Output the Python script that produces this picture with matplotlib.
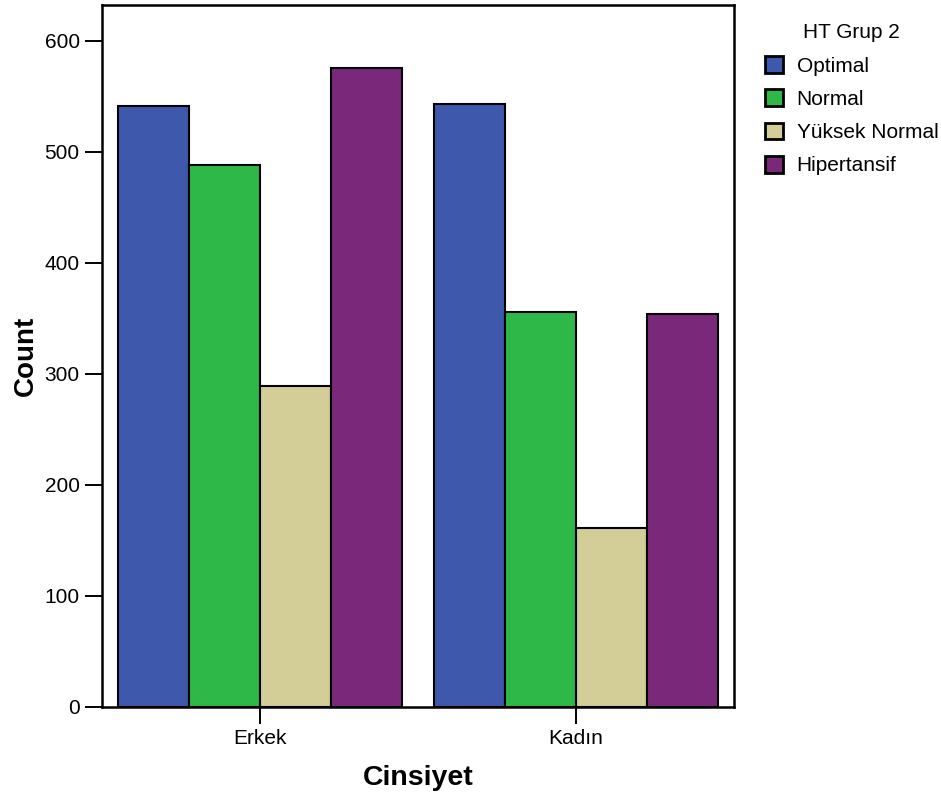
import matplotlib
matplotlib.use("Agg")
import matplotlib.pyplot as plt
import numpy as np

plt.rcParams['font.family'] = ['Liberation Sans', 'DejaVu Sans']

categories = ["Erkek", "Kadın"]
groups = ["Optimal", "Normal", "Yüksek Normal", "Hipertansif"]
optimal = [541, 543]
normal = [488, 356]
yuksek_normal = [289, 161]
hipertansif = [575, 354]
series = [optimal, normal, yuksek_normal, hipertansif]
colors = ["#3E58AC", "#2EB848", "#D3CE97", "#7A287A"]
yticks = [0, 100, 200, 300, 400, 500, 600]

fig = plt.figure(figsize=(9.41, 7.97), dpi=100)
ax = fig.add_axes([102/941, 1 - 707/797, (734-102)/941, (707-5)/797])

x = np.arange(len(categories))
w = 0.225
for i, (name, vals, c) in enumerate(zip(groups, series, colors)):
    ax.bar(x + (i - 1.5) * w, vals, w, color=c, edgecolor="black", linewidth=1.5, label=name, zorder=2)

ax.set_xlim(-0.5, 1.5)
ax.set_ylim(0, 632)
ax.set_xticks(x)
ax.set_xticklabels(categories, fontsize=15)
ax.set_yticks(yticks)
ax.set_yticklabels([str(t) for t in yticks], fontsize=15)
ax.tick_params(axis='both', direction='out', length=12, width=1.4, pad=4)
for s in ax.spines.values():
    s.set_linewidth(1.8)
ax.set_xlabel("Cinsiyet", fontsize=20.5, fontweight='bold', labelpad=12)
ax.set_ylabel("Count", fontsize=20, fontweight='bold', labelpad=4)

leg = ax.legend(title="HT Grup 2", loc='upper left',
                bbox_to_anchor=(757/941, 1 - 15/797), bbox_transform=fig.transFigure,
                frameon=False, fontsize=15, title_fontsize=15,
                handlelength=0.85, handleheight=0.85, handletextpad=0.65,
                labelspacing=0.66, borderaxespad=0.0)
for p in leg.get_patches():
    p.set_linewidth(2.0)

fig.savefig("out.png", dpi=100)
